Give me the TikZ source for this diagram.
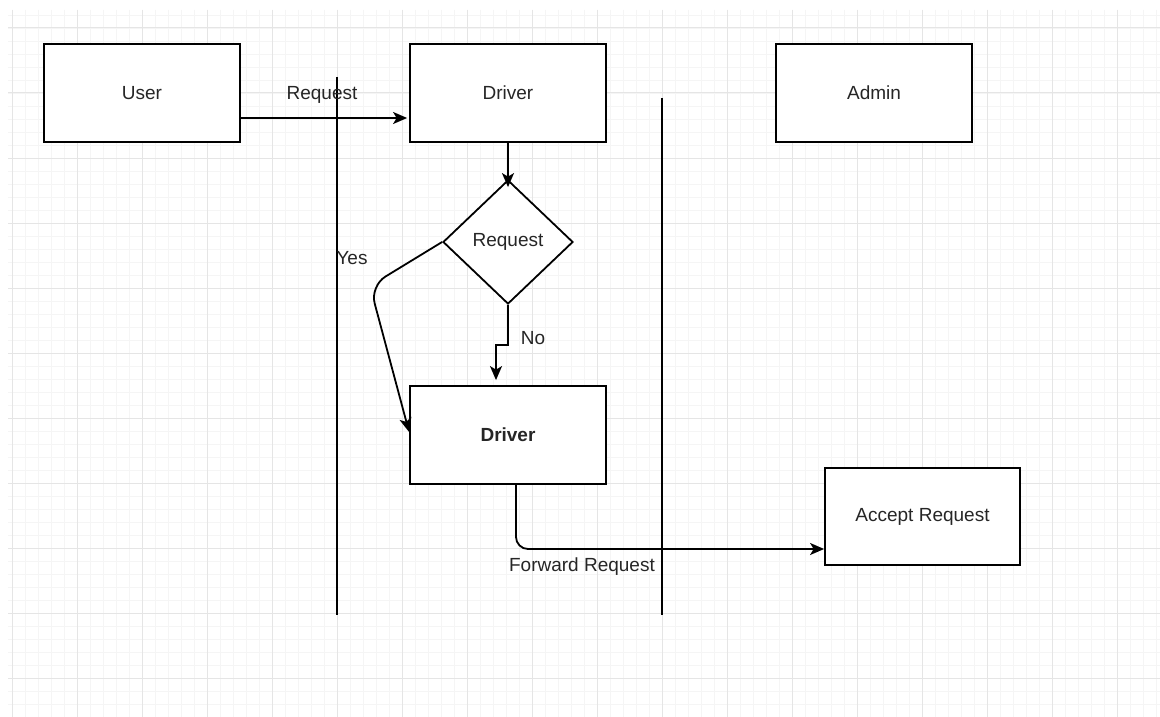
\documentclass[tikz,border=0pt]{standalone}
\usepackage{fontspec}
\setmainfont{Liberation Sans}
\usetikzlibrary{shapes.geometric,arrows.meta}
\begin{document}
\begin{tikzpicture}[x=1pt,y=-1pt,
  box/.style={draw=black,line width=1.8pt,fill=white,minimum width=196pt,minimum height=98pt,inner sep=0pt,font=\fontsize{19}{23}\selectfont,text=black!85},
  dia/.style={draw=black,line width=1.8pt,fill=white,diamond,aspect=1,minimum width=130pt,minimum height=124pt,inner sep=0pt,font=\fontsize{19}{23}\selectfont,text=black!85},
  conn/.style={line width=1.8pt,-{Stealth[length=14pt,width=12pt,inset=3.5pt]}},
  lane/.style={line width=1.8pt},
  lbl/.style={font=\fontsize{19}{23}\selectfont,text=black!85,inner sep=0pt},
  minorg/.style={draw=black!4,line width=0.8pt},
  majorg/.style={draw=black!10,line width=1pt}]
\useasboundingbox (0,0) rectangle (1160,717);
\fill[white] (0,0) rectangle (1160,717);
% grid
\foreach \x in {12,25,...,1160} \draw[minorg] (\x,10) -- (\x,717);
\foreach \y in {15,28,...,717} \draw[minorg] (8,\y) -- (1160,\y);
\foreach \x in {12,77,...,1160} \draw[majorg] (\x,10) -- (\x,717);
\foreach \y in {28,93,...,717} \draw[majorg] (8,\y) -- (1160,\y);
% lanes
\coordinate (l1top) at (337,77);
\coordinate (l1bot) at (337,615);
\coordinate (l2top) at (662,98);
\coordinate (l2bot) at (662,615);
\draw[lane] (l1top) -- (l1bot);
\draw[lane] (l2top) -- (l2bot);
% nodes
\node[box] (user) at (142,93) {User};
\node[box] (driver1) at (508,93) {Driver};
\node[box] (admin) at (874,93) {Admin};
\node[dia] (req) at (508,242) {Request};
\node[box] (driver2) at (508,435) {\textbf{Driver}};
\node[box,minimum width=195pt,minimum height=97pt] (accept) at (922.5,516.5) {Accept Request};
% connectors
\draw[conn] ([yshift=-25pt]user.east) -- ([yshift=-25pt,xshift=-2pt]driver1.west);
\node[lbl] (lreq) at (322,95) {Request};
\draw[conn] (driver1.south) -- ([yshift=-8pt]req.north);
\coordinate (nobend) at (496,345);
\draw[conn] (req.south) |- (nobend) -- ([yshift=5pt]nobend |- driver2.north);
\node[lbl] (lno) at (533,338) {No};
\coordinate (yescorner) at (370,286);
\draw[conn,rounded corners=18pt] (req.west) -- (yescorner) -- ([yshift=3pt]driver2.west);
\node[lbl] (lyes) at (352,258) {Yes};
\coordinate (fwdstart) at ([xshift=8pt]driver2.south);
\draw[conn,rounded corners=12pt] (fwdstart) |- ([yshift=-32.5pt]accept.west);
\node[lbl] (lfwd) at (582,567) {Forward Request};
\end{tikzpicture}
\end{document}
